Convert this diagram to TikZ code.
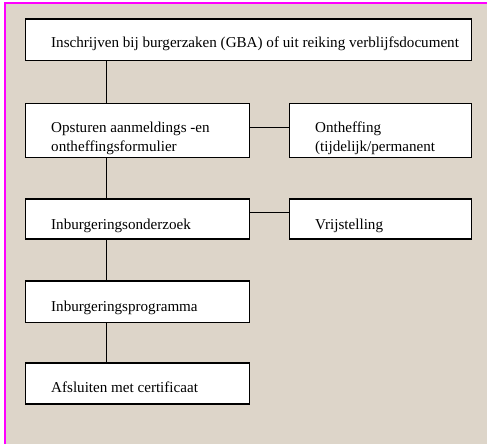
\documentclass[tikz,border=0pt]{standalone}
\usepackage{fontspec}
\setmainfont{Liberation Serif}
\definecolor{bgbeige}{RGB}{221,213,201}
\definecolor{frame}{RGB}{255,0,255}
\begin{document}
\begin{tikzpicture}[x=1pt,y=-1pt,
  stepbox/.style={draw=black,line width=1.4pt,fill=white,inner sep=0pt},
  lbl/.style={anchor=base west,inner sep=0pt,font=\fontsize{15.1}{18}\selectfont,align=left},
  link/.style={draw=black,line width=1.4pt}]
\useasboundingbox (0,0) rectangle (487,444);
\fill[white] (0,0) rectangle (487,444);
\fill[bgbeige] (4,4) rectangle (487,444);
\draw[frame,line width=2pt] (4.5,444) -- (4.5,3.5) -- (487,3.5);
% boxes
\node[stepbox,minimum width=446pt,minimum height=41.7pt,anchor=north west] (b1) at (25,18.3) {};
\node[stepbox,minimum width=224pt,minimum height=54pt,anchor=north west] (b2) at (25,102.7) {};
\node[stepbox,minimum width=182pt,minimum height=54pt,anchor=north west] (r2) at (289,102.7) {};
\node[stepbox,minimum width=224pt,minimum height=40pt,anchor=north west] (b3) at (25,198.3) {};
\node[stepbox,minimum width=182pt,minimum height=40pt,anchor=north west] (r3) at (289,198.3) {};
\node[stepbox,minimum width=224pt,minimum height=41.5pt,anchor=north west] (b4) at (25,280.3) {};
\node[stepbox,minimum width=224pt,minimum height=41pt,anchor=north west] (b5) at (25,362.3) {};
% connectors
\coordinate (c1) at (106.7,60);
\draw[link] (b1.south -| c1) -- (b2.north -| c1);
\draw[link] (b2.south -| c1) -- (b3.north -| c1);
\draw[link] (b3.south -| c1) -- (b4.north -| c1);
\draw[link] (b4.south -| c1) -- (b5.north -| c1);
\coordinate (h2) at (0,127.7);
\coordinate (h3) at (0,212.3);
\draw[link] (b2.east |- h2) -- (r2.west |- h2);
\draw[link] (b3.east |- h3) -- (r3.west |- h3);
% labels
\node[lbl] (t1) at (51,47.5) {Inschrijven bij burgerzaken (GBA) of uit reiking verblijfsdocument};
\node[lbl] (t2a) at (51,132.5) {Opsturen aanmeldings -en};
\node[lbl] (t2b) at (51,151.5) {ontheffingsformulier};
\node[lbl] (t2c) at (315,132.5) {Ontheffing};
\node[lbl] (t2d) at (315,151.5) {(tijdelijk/permanent};
\node[lbl] (t3) at (51,229.5) {Inburgeringsonderzoek};
\node[lbl] (t3r) at (315,229.5) {Vrijstelling};
\node[lbl] (t4) at (51,311) {Inburgeringsprogramma};
\node[lbl] (t5) at (51,392.5) {Afsluiten met certificaat};
\end{tikzpicture}
\end{document}
